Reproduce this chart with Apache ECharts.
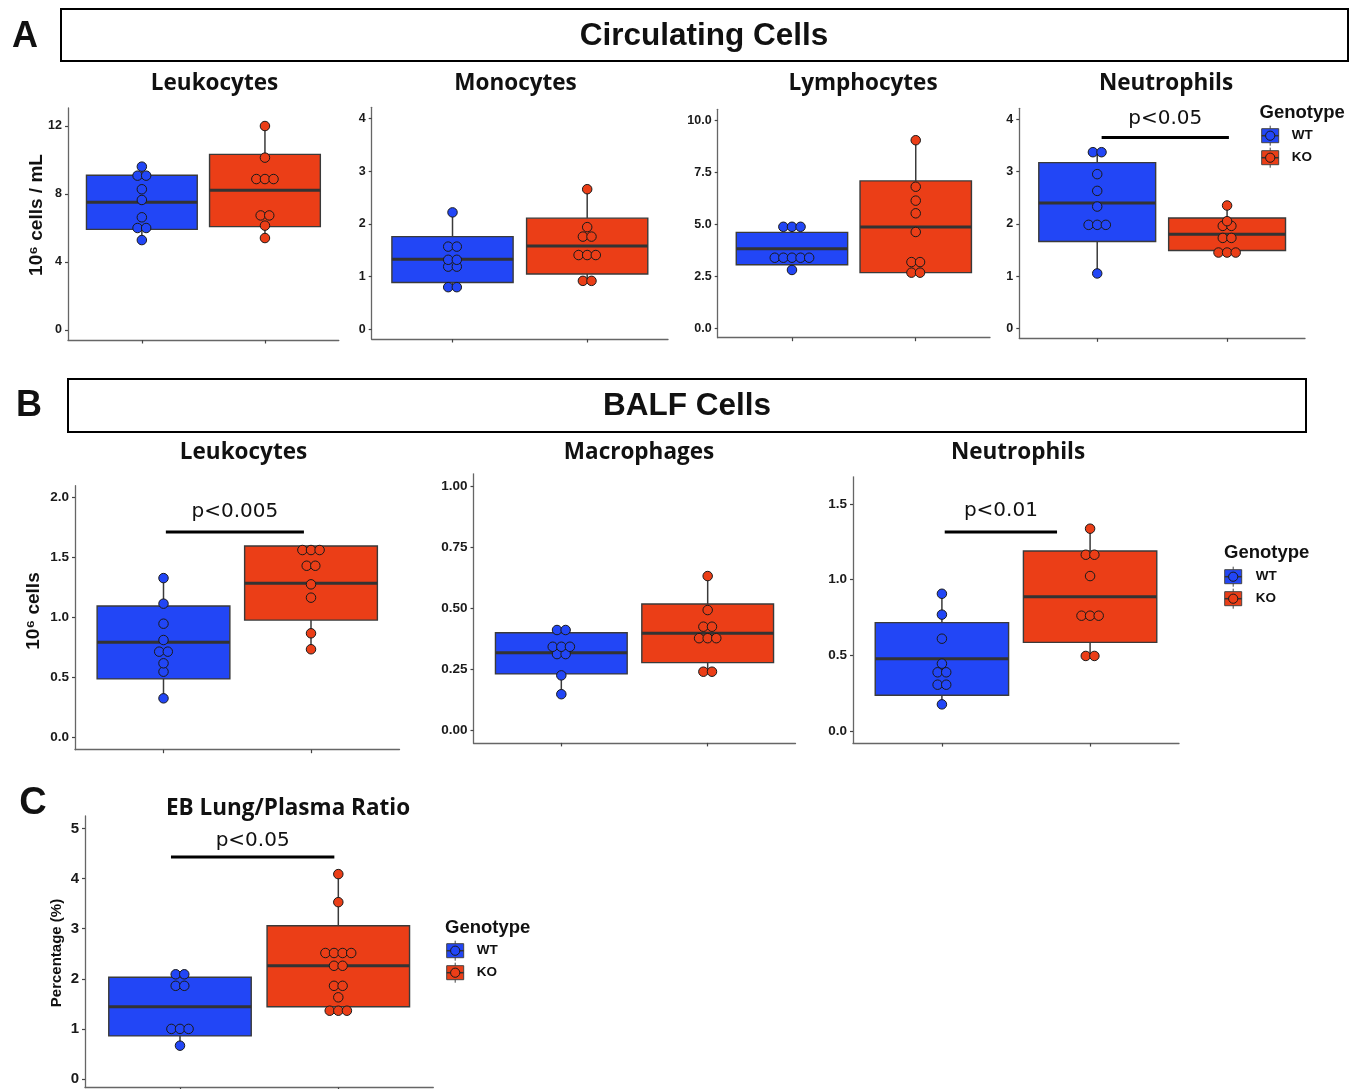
<!DOCTYPE html>
<html><head><meta charset="utf-8">
<script src="https://cdn.jsdelivr.net/npm/echarts@6/dist/echarts.min.js"></script>
<style>html,body{margin:0;padding:0;background:#fff}#c{width:1360px;height:1089px}</style>
</head><body><div id="c"></div>
<script>
// ---------- DATA ----------
const groups = ['WT', 'KO'];
const groupX = [1, 2];

// Circulating Leukocytes (10^6 cells / mL)
const circLeukWT = [5.29, 6.0, 6.0, 6.63, 7.65, 8.28, 9.08, 9.08, 9.61];
const circLeukKO = [5.41, 6.14, 6.74, 6.74, 8.88, 8.88, 8.88, 10.14, 12.0];
const circLeukBoxWT = [5.29, 5.92, 7.51, 9.10, 9.61];   // min, Q1, median, Q3, max
const circLeukBoxKO = [5.41, 6.08, 8.22, 10.33, 12.0];
const circLeukTicks = [0, 4, 8, 12];

// Circulating Monocytes
const circMonoWT = [0.80, 0.80, 1.19, 1.19, 1.32, 1.32, 1.57, 1.57, 2.22];
const circMonoKO = [0.92, 0.92, 1.41, 1.41, 1.41, 1.76, 1.76, 1.94, 2.66];
const circMonoBoxWT = [0.80, 0.89, 1.33, 1.76, 2.22];
const circMonoBoxKO = [0.92, 1.05, 1.58, 2.11, 2.66];
const circMonoTicks = [0, 1, 2, 3, 4];

// Circulating Lymphocytes
const circLymphWT = [2.81, 3.40, 3.40, 3.40, 3.40, 3.40, 4.89, 4.89, 4.89];
const circLymphKO = [2.68, 2.68, 3.19, 3.19, 4.64, 5.54, 6.15, 6.82, 9.06];
const circLymphBoxWT = [2.81, 3.06, 3.83, 4.62, 4.89];
const circLymphBoxKO = [2.68, 2.68, 4.88, 7.10, 9.06];
const circLymphTicks = [0, 2.5, 5, 7.5, 10];

// Circulating Neutrophils
const circNeutWT = [1.05, 1.98, 1.98, 1.98, 2.33, 2.63, 2.95, 3.37, 3.37];
const circNeutKO = [1.45, 1.45, 1.45, 1.73, 1.73, 1.96, 1.96, 2.05, 2.35];
const circNeutBoxWT = [1.05, 1.66, 2.40, 3.17, 3.37];
const circNeutBoxKO = [1.45, 1.49, 1.80, 2.11, 2.35];
const circNeutTicks = [0, 1, 2, 3, 4];
const circNeutSig = [1.034, 2.014, 3.65];   // bar x-start, x-end, y
const circNeutP = 'p<0.05';

// BALF Leukocytes (10^6 cells)
const balfLeukWT = [0.328, 0.55, 0.62, 0.717, 0.717, 0.814, 0.95, 1.117, 1.33];
const balfLeukKO = [0.737, 0.87, 1.167, 1.278, 1.433, 1.433, 1.564, 1.564, 1.564];
const balfLeukBoxWT = [0.328, 0.49, 0.795, 1.098, 1.33];
const balfLeukBoxKO = [0.737, 0.98, 1.287, 1.598, 1.598];
const balfLeukTicks = [0, 0.5, 1, 1.5, 2];
const balfLeukSig = [1.016, 1.952, 1.714];
const balfLeukP = 'p<0.005';

// BALF Macrophages
const balfMacWT = [0.149, 0.226, 0.313, 0.313, 0.343, 0.343, 0.343, 0.4115, 0.4115];
const balfMacKO = [0.241, 0.241, 0.378, 0.378, 0.378, 0.425, 0.425, 0.493, 0.632];
const balfMacBoxWT = [0.149, 0.232, 0.318, 0.400, 0.4115];
const balfMacBoxKO = [0.241, 0.278, 0.398, 0.518, 0.632];
const balfMacTicks = [0, 0.25, 0.5, 0.75, 1];

// BALF Neutrophils
const balfNeutWT = [0.176, 0.306, 0.306, 0.388, 0.388, 0.445, 0.61, 0.769, 0.907];
const balfNeutKO = [0.496, 0.496, 0.762, 0.762, 0.762, 1.024, 1.165, 1.165, 1.337];
const balfNeutBoxWT = [0.176, 0.236, 0.478, 0.716, 0.907];
const balfNeutBoxKO = [0.496, 0.586, 0.888, 1.19, 1.337];
const balfNeutTicks = [0, 0.5, 1, 1.5];
const balfNeutSig = [1.019, 1.777, 1.315];
const balfNeutP = 'p<0.01';

// EB Lung/Plasma Ratio (%)
const ebWT = [0.665, 1.0, 1.0, 1.0, 1.86, 1.86, 2.09, 2.09];
const ebKO = [1.363, 1.363, 1.363, 1.63, 1.86, 1.86, 2.26, 2.26, 2.515, 2.515, 2.515, 2.515, 3.53, 4.09];
const ebBoxWT = [0.665, 0.86, 1.44, 2.03, 2.09];
const ebBoxKO = [1.363, 1.443, 2.26, 3.06, 4.09];
const ebTicks = [0, 1, 2, 3, 4, 5];
const ebSig = [0.943, 1.975, 4.43];
const ebP = 'p<0.05';

// ---------- STYLE / LAYOUT ----------
const BLUE = '#2246F6', RED = '#EB3E17', EDGE = '#3a3a3a';
const TICKFONT = '"Liberation Sans", Arial, sans-serif';
const TITLEFONT = '"Open Sans", "Liberation Sans", sans-serif';

const panels = [
  {title:'Leukocytes', tx:214.5, ty:84, wt:circLeukWT, ko:circLeukKO, bw:circLeukBoxWT, bk:circLeukBoxKO, ticks:circLeukTicks, dec:0,
   l:68, r:338.8, t:108, b:340, min:-0.588, max:13.06, fs:12.5},
  {title:'Monocytes', tx:515.5, ty:84, wt:circMonoWT, ko:circMonoKO, bw:circMonoBoxWT, bk:circMonoBoxKO, ticks:circMonoTicks, dec:0,
   l:371.7, r:668, t:107.3, b:339, min:-0.184, max:4.215, fs:12.5},
  {title:'Lymphocytes', tx:863, ty:84, wt:circLymphWT, ko:circLymphKO, bw:circLymphBoxWT, bk:circLymphBoxKO, ticks:circLymphTicks, dec:1,
   l:717.7, r:990, t:109.3, b:337.7, min:-0.453, max:10.55, fs:12.5},
  {title:'Neutrophils', tx:1166, ty:84, wt:circNeutWT, ko:circNeutKO, bw:circNeutBoxWT, bk:circNeutBoxKO, ticks:circNeutTicks, dec:0,
   l:1019.3, r:1305, t:108.3, b:338.3, min:-0.191, max:4.21, fs:12.5, sig:circNeutSig, p:circNeutP, pgap:19},
  {title:'Leukocytes', tx:243.5, ty:453, wt:balfLeukWT, ko:balfLeukKO, bw:balfLeukBoxWT, bk:balfLeukBoxKO, ticks:balfLeukTicks, dec:1,
   l:75, r:399.5, t:485.7, b:749.7, min:-0.1, max:2.1, fs:13.5, sig:balfLeukSig, p:balfLeukP, pgap:20},
  {title:'Macrophages', tx:639, ty:453, wt:balfMacWT, ko:balfMacKO, bw:balfMacBoxWT, bk:balfMacBoxKO, ticks:balfMacTicks, dec:2,
   l:473.5, r:795.5, t:473.8, b:742.9, min:-0.05, max:1.05, fs:13.5},
  {title:'Neutrophils', tx:1018, ty:453, wt:balfNeutWT, ko:balfNeutKO, bw:balfNeutBoxWT, bk:balfNeutBoxKO, ticks:balfNeutTicks, dec:1,
   l:853, r:1179, t:476.8, b:743.1, min:-0.08, max:1.68, fs:13.5, sig:balfNeutSig, p:balfNeutP, pgap:21},
  {title:'EB Lung/Plasma Ratio', tx:288, ty:809, wt:ebWT, ko:ebKO, bw:ebBoxWT, bk:ebBoxKO, ticks:ebTicks, dec:0,
   l:85, r:433.3, t:816, b:1087.5, min:-0.17, max:5.25, fs:15, sig:ebSig, p:ebP, pgap:16}
];

const DOT = 9.5, SP = 8.6;
function dotData(vals, x) {
  const counts = {}, seen = {};
  vals.forEach(v => counts[v] = (counts[v] || 0) + 1);
  return vals.map(v => {
    const n = counts[v]; const i = seen[v] = (seen[v] || 0) + 1;
    return { value: [x, v], symbolOffset: [((i - 1) - (n - 1) / 2) * SP, 0] };
  });
}

function renderBox(params, api) {
  const x = api.value(0);
  const mn = api.value(1), q1 = api.value(2), md = api.value(3), q3 = api.value(4), mx = api.value(5);
  const cx = api.coord([x, md])[0];
  const ymd = api.coord([x, md])[1], yq1 = api.coord([x, q1])[1], yq3 = api.coord([x, q3])[1];
  const ymn = api.coord([x, mn])[1], ymx = api.coord([x, mx])[1];
  const half = api.size([0.9, 0])[0] / 2;
  const fill = params.dataIndex === 0 ? BLUE : RED;
  const ch = [];
  if (mn < q1) ch.push({type:'line', shape:{x1:cx, y1:yq1, x2:cx, y2:ymn}, style:{stroke:EDGE, lineWidth:1.5}});
  if (mx > q3) ch.push({type:'line', shape:{x1:cx, y1:yq3, x2:cx, y2:ymx}, style:{stroke:EDGE, lineWidth:1.5}});
  ch.push({type:'rect', shape:{x:cx - half, y:yq3, width:2 * half, height:yq1 - yq3}, style:{fill:fill, stroke:EDGE, lineWidth:1.4}});
  ch.push({type:'line', shape:{x1:cx - half, y1:ymd, x2:cx + half, y2:ymd}, style:{stroke:'#333', lineWidth:3}});
  return {type:'group', children:ch};
}

const grid = [], xAxis = [], yAxis = [], series = [], graphic = [];
panels.forEach((p, k) => {
  grid.push({left:p.l, top:p.t, width:p.r - p.l, height:p.b - p.t, containLabel:false});
  xAxis.push({type:'value', gridIndex:k, min:0.4, max:2.6,
    axisLine:{show:true, onZero:false, lineStyle:{color:'#666', width:1.3}},
    axisTick:{show:true, customValues:groupX, length:3.5, lineStyle:{color:'#444', width:1.2}},
    axisLabel:{show:false}, splitLine:{show:false}});
  yAxis.push({type:'value', gridIndex:k, min:p.min, max:p.max,
    axisLine:{show:true, onZero:false, lineStyle:{color:'#666', width:1.3}},
    axisTick:{show:true, customValues:p.ticks, length:3, lineStyle:{color:'#444', width:1.2}},
    axisLabel:{show:true, customValues:p.ticks, margin:6, color:'#1a1a1a', fontWeight:'bold', fontSize:p.fs, fontFamily:TICKFONT,
      formatter: v => Number(v).toFixed(p.dec)},
    splitLine:{show:false}});
  series.push({type:'custom', xAxisIndex:k, yAxisIndex:k, renderItem:renderBox, encode:{x:0, y:[1,2,3,4,5]},
    data:[[groupX[0]].concat(p.bw), [groupX[1]].concat(p.bk)], z:2, silent:true});
  series.push({type:'scatter', name:groups[0], xAxisIndex:k, yAxisIndex:k, symbolSize:DOT, z:3, silent:true,
    itemStyle:{color:BLUE, borderColor:'#1a1a1a', borderWidth:1, opacity:1}, data:dotData(p.wt, groupX[0])});
  series.push({type:'scatter', name:groups[1], xAxisIndex:k, yAxisIndex:k, symbolSize:DOT, z:3, silent:true,
    itemStyle:{color:RED, borderColor:'#1a1a1a', borderWidth:1, opacity:1}, data:dotData(p.ko, groupX[1])});
  if (p.sig) {
    const label = p.p, gap = p.pgap;
    series.push({type:'custom', xAxisIndex:k, yAxisIndex:k, z:4, silent:true, encode:{x:[0,1], y:2},
      data:[p.sig],
      renderItem:(params, api) => {
        const a = api.coord([api.value(0), api.value(2)]);
        const b = api.coord([api.value(1), api.value(2)]);
        return {type:'group', children:[
          {type:'line', shape:{x1:a[0], y1:a[1], x2:b[0], y2:b[1]}, style:{stroke:'#000', lineWidth:3}},
          {type:'text', x:(a[0] + b[0]) / 2, y:a[1] - gap,
           style:{text:label, fill:'#111', font:'20px "DejaVu Sans", sans-serif', textAlign:'center', textVerticalAlign:'middle', align:'center', verticalAlign:'middle'}}
        ]};
      }});
  }
  graphic.push({type:'text', x:p.tx, y:p.ty, silent:true,
    style:{text:p.title, fill:'#111', font:'bold 22.5px ' + TITLEFONT, textAlign:'center', textVerticalAlign:'middle', align:'center', verticalAlign:'middle'}});
});

function txt(x, y, s, font, align, rot) {
  return {type:'text', x:x, y:y, rotation:rot || 0, silent:true,
    style:{text:s, fill:'#111', font:font, textAlign:align || 'center', textVerticalAlign:'middle', align:align || 'center', verticalAlign:'middle'}};
}
// header boxes and panel letters
graphic.push({type:'rect', shape:{x:61, y:9, width:1287, height:52}, style:{fill:'none', stroke:'#000', lineWidth:2}, silent:true});
graphic.push({type:'rect', shape:{x:68, y:379, width:1238, height:53}, style:{fill:'none', stroke:'#000', lineWidth:2}, silent:true});
graphic.push(txt(704, 36, 'Circulating Cells', 'bold 31.5px ' + TICKFONT));
graphic.push(txt(687, 406, 'BALF Cells', 'bold 31.5px ' + TICKFONT));
graphic.push(txt(25, 37, 'A', 'bold 36px ' + TICKFONT));
graphic.push(txt(29, 406, 'B', 'bold 36px ' + TICKFONT));
graphic.push(txt(33, 804, 'C', 'bold 38px ' + TICKFONT));
// y axis titles
graphic.push(txt(37, 215, '10\u2076 cells / mL', 'bold 19px ' + TICKFONT, 'center', Math.PI / 2));
graphic.push(txt(34, 611, '10\u2076 cells', 'bold 19px ' + TICKFONT, 'center', Math.PI / 2));
graphic.push(txt(56.5, 953, 'Percentage (%)', 'bold 15px ' + TICKFONT, 'center', Math.PI / 2));

// legends
function legendKey(x, cy, color, label, tdx) {
  return [
    {type:'line', shape:{x1:x + 8.5, y1:cy - 10, x2:x + 8.5, y2:cy + 10}, style:{stroke:'#444', lineWidth:1}, silent:true},
    {type:'rect', shape:{x:x, y:cy - 7, width:17, height:14}, style:{fill:color, stroke:'#444', lineWidth:1}, silent:true},
    {type:'line', shape:{x1:x, y1:cy, x2:x + 17, y2:cy}, style:{stroke:'#333', lineWidth:1.5}, silent:true},
    {type:'circle', shape:{cx:x + 8.5, cy:cy, r:4.6}, style:{fill:color, stroke:'#1a1a1a', lineWidth:1}, silent:true},
    txt(x + tdx, cy, label, 'bold 13.5px ' + TICKFONT, 'left')
  ];
}
function legend(x, y, kx, d1, d2, tdx) {
  graphic.push(txt(x, y, 'Genotype', 'bold 18.5px ' + TICKFONT, 'left'));
  legendKey(kx, y + d1, BLUE, groups[0], tdx).forEach(e => graphic.push(e));
  legendKey(kx, y + d2, RED, groups[1], tdx).forEach(e => graphic.push(e));
}
legend(1259.5, 113.3, 1261.7, 22.4, 44.4, 30);
legend(1224, 553.3, 1224.7, 23.4, 45.4, 31);
legend(445, 927.7, 446.7, 23, 45, 30);

const chart = echarts.init(document.getElementById('c'), null, {renderer:'canvas'});
chart.setOption({animation:false, backgroundColor:'#fff', grid, xAxis, yAxis, series, graphic});
</script></body></html>
